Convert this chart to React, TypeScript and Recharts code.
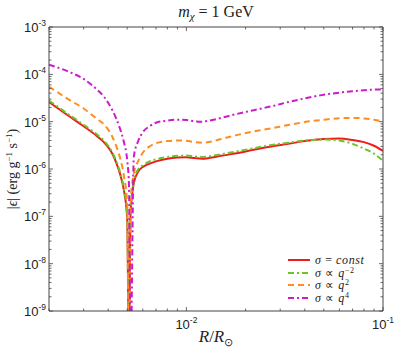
import React from "react";
import { LineChart, Line, XAxis, YAxis, Label, Legend } from "recharts";

// R / R_sun sample points
const radius = [
  0.002, 0.0025, 0.003, 0.0035, 0.0038, 0.004, 0.0042, 0.0044, 0.0046, 0.0048, 0.005, 0.0051,
  0.0052, 0.0054, 0.0057, 0.006, 0.0065, 0.007, 0.008, 0.009, 0.01, 0.011,
  0.012, 0.013, 0.015, 0.018, 0.022, 0.027, 0.033, 0.04, 0.05, 0.06, 0.07,
  0.08, 0.09, 0.1,
];

// |epsilon| (erg g^-1 s^-1)
const sigmaConst = [
  2.6e-5, 1.35e-5, 8e-6, 5.0e-6, 3.7e-6, 2.9e-6, 2.1e-6, 1.35e-6, 7.8e-7, 3.7e-7, 9e-8, 1e-10,
  1.2e-7, 5e-7, 9e-7, 1.1e-6, 1.3e-6, 1.45e-6, 1.65e-6, 1.75e-6, 1.78e-6, 1.7e-6,
  1.65e-6, 1.7e-6, 1.9e-6, 2.15e-6, 2.55e-6, 3.0e-6, 3.4e-6, 3.9e-6, 4.3e-6, 4.4e-6,
  4.1e-6, 3.7e-6, 3.1e-6, 2.4e-6,
];
const sigmaQm2 = [
  2.8e-5, 1.45e-5, 8.6e-6, 5.4e-6, 4.0e-6, 3.1e-6, 2.25e-6, 1.45e-6, 8.4e-7, 4.0e-7, 1e-7, 1e-10,
  1.4e-7, 5.5e-7, 1.0e-6, 1.2e-6, 1.45e-6, 1.6e-6, 1.8e-6, 1.9e-6, 1.92e-6, 1.85e-6,
  1.8e-6, 1.85e-6, 2.05e-6, 2.35e-6, 2.75e-6, 3.2e-6, 3.6e-6, 4.0e-6, 4.2e-6, 4.0e-6,
  3.4e-6, 2.7e-6, 2.1e-6, 1.5e-6,
];
const sigmaQ2 = [
  5.5e-5, 3.0e-5, 1.9e-5, 1.15e-5, 8.8e-6, 6.8e-6, 4.8e-6, 3.0e-6, 1.7e-6, 7.5e-7, 1.8e-7, 1e-10,
  2e-7, 8e-7, 1.5e-6, 2.2e-6, 3.0e-6, 3.5e-6, 3.9e-6, 4.0e-6, 3.95e-6, 3.7e-6,
  3.6e-6, 3.7e-6, 4.3e-6, 5.2e-6, 6.2e-6, 7.2e-6, 8.5e-6, 9.8e-6, 1.1e-5, 1.18e-5,
  1.2e-5, 1.17e-5, 1.1e-5, 1.0e-5,
];
const sigmaQ4 = [
  1.6e-4, 1.15e-4, 8e-5, 4.8e-5, 3.4e-5, 2.5e-5, 1.75e-5, 1.15e-5, 7e-6, 3.8e-6, 1.5e-6, 5e-7,
  1e-10, 1.8e-6, 4e-6, 6e-6, 8e-6, 9.5e-6, 1.05e-5, 1.1e-5, 1.08e-5, 1.02e-5,
  1.0e-5, 1.05e-5, 1.2e-5, 1.45e-5, 1.75e-5, 2.1e-5, 2.6e-5, 3.1e-5, 3.7e-5, 4.1e-5,
  4.4e-5, 4.6e-5, 4.75e-5, 4.8e-5,
];

const xTicks = [
  0.002, 0.003, 0.004, 0.005, 0.006, 0.007, 0.008, 0.009, 0.01,
  0.02, 0.03, 0.04, 0.05, 0.06, 0.07, 0.08, 0.09, 0.1,
];
const yDecades = [-9, -8, -7, -6, -5, -4];
const mantissas = [1, 2, 3, 4, 5, 6, 7, 8, 9];
const yTicks = [...yDecades.flatMap((d) => mantissas.map((m) => m * Math.pow(10, d))), 1e-3];

const series = [
  { key: "c", label: "const", values: sigmaConst, color: "#ee1c1c", dash: undefined },
  { key: "qm2", label: "−2", values: sigmaQm2, color: "#6cc524", dash: "6 3 2 3" },
  { key: "q2", label: "2", values: sigmaQ2, color: "#ff8c1f", dash: "6 4" },
  { key: "q4", label: "4", values: sigmaQ4, color: "#cc1acc", dash: "6 3 2 3" },
];

const data = radius.map((r, i) => {
  const row: any = { r };
  series.forEach((s) => (row[s.key] = s.values[i]));
  return row;
});

const frame = "#444";
const tickFont = "'Liberation Sans', Arial, sans-serif";
const serif = "'Liberation Serif', 'Times New Roman', serif";

const isMajor = (v: number) => Math.abs(Math.log10(v) - Math.round(Math.log10(v))) < 1e-6;

const XTick = (props: any) => {
  const { x, y, payload, side } = props;
  const v = payload.value;
  const major = isMajor(v);
  const len = major ? 4 : 2.5;
  const dir = side === "top" ? 1 : -1;
  return (
    <g>
      <line x1={x} x2={x} y1={y} y2={y + dir * len} stroke={frame} strokeWidth={0.8} />
      {major && side === "bottom" && (
        <text x={x} y={y + 18} textAnchor="middle" fontFamily={tickFont} fontSize={13} fill="#222">
          10
          <tspan dy={-6} fontSize={8.5}>{Math.round(Math.log10(v))}</tspan>
        </text>
      )}
    </g>
  );
};

const YTick = (props: any) => {
  const { x, y, payload, side } = props;
  const v = payload.value;
  const major = isMajor(v);
  const len = major ? 4 : 2.5;
  const dir = side === "right" ? -1 : 1;
  return (
    <g>
      <line x1={x} x2={x + dir * len} y1={y} y2={y} stroke={frame} strokeWidth={0.8} />
      {major && side === "left" && (
        <text x={x - 3} y={y + 5} textAnchor="end" fontFamily={tickFont} fontSize={13} fill="#222">
          10
          <tspan dy={-6} fontSize={8.5}>{Math.round(Math.log10(v))}</tspan>
        </text>
      )}
    </g>
  );
};

const renderLegend = () => (
  <div style={{ fontFamily: serif, fontSize: 12, lineHeight: "12.5px", color: "#222", letterSpacing: 0.6 }}>
    {series.map((s) => (
      <div key={s.key} style={{ display: "flex", alignItems: "center", whiteSpace: "nowrap", height: 12.5 }}>
        <svg width={26} height={10}>
          <line x1={2} x2={24} y1={5} y2={5} stroke={s.color} strokeWidth={2} strokeDasharray={s.dash} />
        </svg>
        <span style={{ marginLeft: 3 }}>
          <i>σ</i>{" "}
          {s.key === "c" ? (
            <>
              = <i>const</i>
            </>
          ) : (
            <>
              ∝ <i>q</i>
              <sup style={{ fontSize: 8, verticalAlign: 4, lineHeight: 0 }}>{s.label}</sup>
            </>
          )}
        </span>
      </div>
    ))}
  </div>
);

const axisCommon = {
  allowDataOverflow: true,
  interval: 0 as const,
  tickSize: 0,
  tickMargin: 0,
  tickLine: false,
  axisLine: { stroke: frame },
};

export default function App() {
  return (
    <div style={{ position: "absolute", left: 0, top: 0, background: "#fff" }}>
      <LineChart width={399} height={350} data={data} margin={{ top: 26, right: 15, bottom: 38, left: 48 }}>
        <XAxis
          xAxisId="b"
          dataKey="r"
          type="number"
          scale="log"
          domain={[0.002, 0.1]}
          ticks={xTicks}
          height={1}
          {...axisCommon}
          tick={<XTick side="bottom" />}
        >
          <Label
            content={(p: any) => {
              const vb = p.viewBox;
              return (
                <text x={vb.x + vb.width / 2} y={vb.y + 31} textAnchor="middle" fontFamily={serif} fontSize={17} fill="#222">
                  <tspan fontStyle="italic">R</tspan>/<tspan fontStyle="italic">R</tspan>
                  <tspan dy={4} fontSize={11}>⊙</tspan>
                </text>
              );
            }}
          />
        </XAxis>
        <XAxis
          xAxisId="t"
          orientation="top"
          dataKey="r"
          type="number"
          scale="log"
          domain={[0.002, 0.1]}
          ticks={xTicks}
          height={1}
          {...axisCommon}
          tick={<XTick side="top" />}
        >
          <Label
            content={(p: any) => {
              const vb = p.viewBox;
              return (
                <text x={vb.x + vb.width / 2} y={vb.y - 9} textAnchor="middle" fontFamily={serif} fontSize={16} fill="#222">
                  <tspan fontStyle="italic">m</tspan>
                  <tspan dy={3} fontSize={11} fontStyle="italic">χ</tspan>
                  <tspan dy={-3}> = 1 GeV</tspan>
                </text>
              );
            }}
          />
        </XAxis>
        <YAxis
          yAxisId="l"
          type="number"
          scale="log"
          domain={[1e-9, 1e-3]}
          ticks={yTicks}
          width={1}
          {...axisCommon}
          tick={<YTick side="left" />}
        >
          <Label
            content={(p: any) => {
              const vb = p.viewBox;
              const cx = vb.x - 31;
              const cy = vb.y + vb.height / 2;
              return (
                <text x={cx} y={cy} transform={`rotate(-90 ${cx} ${cy})`} textAnchor="middle" fontFamily={serif} fontSize={14} fill="#222">
                  |<tspan fontStyle="italic">ϵ</tspan>|  (erg g
                  <tspan dy={-5} fontSize={9}>−1</tspan>
                  <tspan dy={5}> s</tspan>
                  <tspan dy={-5} fontSize={9}>−1</tspan>
                  <tspan dy={5}>)</tspan>
                </text>
              );
            }}
          />
        </YAxis>
        <YAxis
          yAxisId="r"
          orientation="right"
          type="number"
          scale="log"
          domain={[1e-9, 1e-3]}
          ticks={yTicks}
          width={1}
          {...axisCommon}
          tick={<YTick side="right" />}
        />
        {series.map((s) => (
          <Line
            key={s.key}
            xAxisId="b"
            yAxisId="l"
            dataKey={s.key}
            type="monotone"
            stroke={s.color}
            strokeWidth={2}
            strokeDasharray={s.dash}
            dot={false}
            isAnimationActive={false}
          />
        ))}
        <Legend
          layout="horizontal"
          verticalAlign="middle"
          align="center"
          content={renderLegend}
          wrapperStyle={{ left: 286, top: 254, width: "auto" }}
        />
      </LineChart>
    </div>
  );
}
